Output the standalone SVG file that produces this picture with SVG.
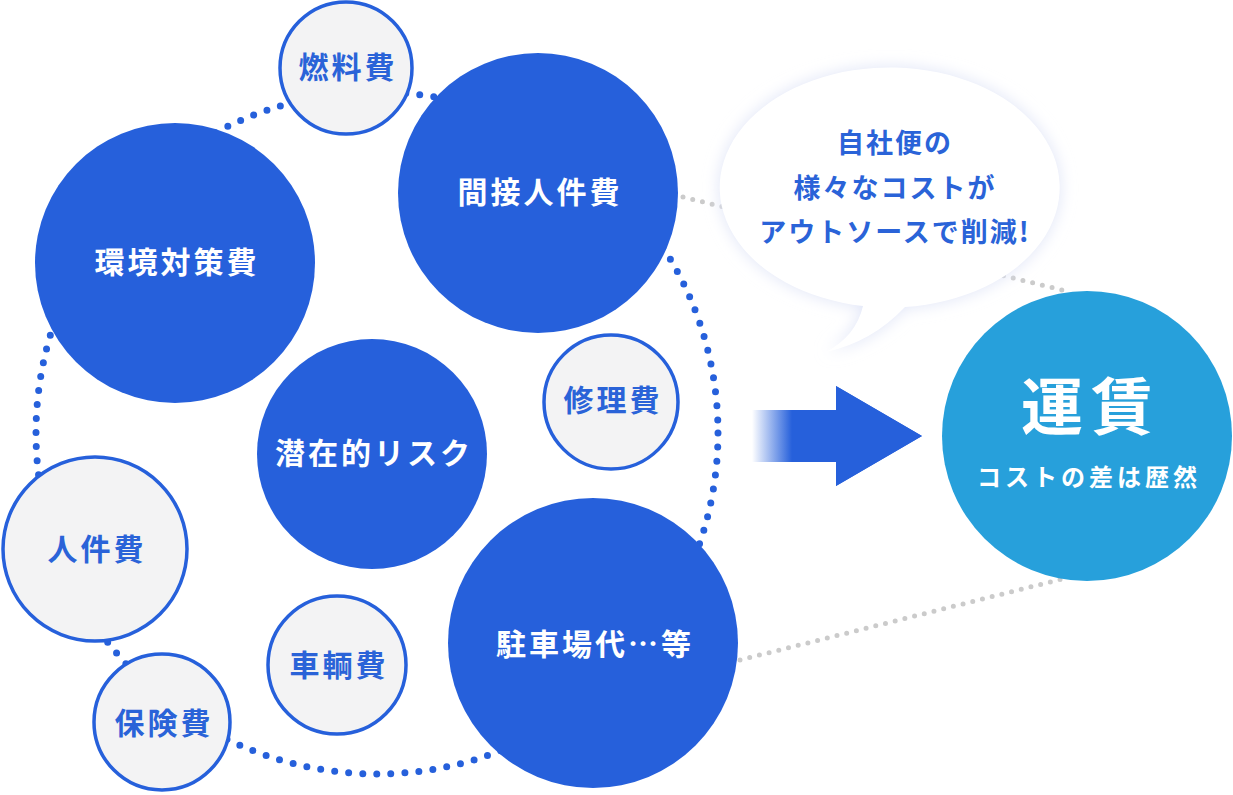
<svg xmlns="http://www.w3.org/2000/svg" width="1233" height="795" viewBox="0 0 1233 795">
<defs>
<style>
.big{fill:#2660db}
.small{fill:#f3f3f4;stroke:#2660db;stroke-width:3.5}
.t{font-family:"Noto Sans CJK JP","Noto Sans CJK SC",sans-serif;font-weight:700;text-anchor:middle}
.tw{fill:#ffffff;font-size:30px;letter-spacing:3px}
.tb{fill:#2a63d8;font-size:30px;letter-spacing:3px}
.dots{fill:none;stroke:#2660db;stroke-width:7;stroke-linecap:round}
.gdots{fill:none;stroke:#cbcbcb;stroke-width:5;stroke-linecap:round;stroke-dasharray:0 10}
</style>
<linearGradient id="fade" gradientUnits="userSpaceOnUse" x1="752" y1="0" x2="792" y2="0">
<stop offset="0" stop-color="#2660db" stop-opacity="0"/>
<stop offset="1" stop-color="#2660db" stop-opacity="1"/>
</linearGradient>
<filter id="glow" x="-30%" y="-30%" width="160%" height="160%">
<feGaussianBlur stdDeviation="8"/>
</filter>
</defs>
<rect width="1233" height="795" fill="#ffffff"/>
<g id="connectors">
<circle class="dots" cx="377" cy="433" r="341" stroke-dasharray="0 14.096"/>
<line class="gdots" x1="683" y1="197" x2="1066" y2="291"/>
<line class="gdots" x1="740" y1="660" x2="1066" y2="578"/>
<path d="M752 410 H836 V386 L922 436 L836 486 V462 H752 Z" fill="url(#fade)"/>
<path d="M792 410 H836 V386 L922 436 L836 486 V462 H792 Z" fill="#2660db"/>
</g>
<g id="bubble">
<path d="M905 307 A170 120 0 1 0 863 306 Q856 336 826 352 Q872 342 905 307 Z" fill="#dfe4f7" filter="url(#glow)"/>
<path d="M905 307 A170 120 0 1 0 863 306 Q856 336 826 352 Q872 342 905 307 Z" fill="#ffffff"/>
<text class="t" fill="#2a63d8" font-size="27" letter-spacing="2"><tspan x="895" y="153">自社便の</tspan><tspan x="895" y="198">様々なコストが</tspan><tspan x="895" y="242">アウトソースで削減!</tspan></text>
</g>
<g id="node-nenryo"><circle class="small" cx="346" cy="68" r="66"/><text class="t tb" x="348" y="78">燃料費</text></g>
<g id="node-kansetsu"><circle class="big" cx="538" cy="193" r="140"/><text class="t tw" x="540" y="203">間接人件費</text></g>
<g id="node-kankyo"><circle class="big" cx="175" cy="263" r="140"/><text class="t tw" x="177" y="273">環境対策費</text></g>
<g id="node-senzai"><circle class="big" cx="372" cy="454" r="115"/><text class="t tw" x="374" y="464">潜在的リスク</text></g>
<g id="node-shuri"><circle class="small" cx="611" cy="402" r="67"/><text class="t tb" x="613" y="411">修理費</text></g>
<g id="node-jinken"><circle class="small" cx="95" cy="549" r="92"/><text class="t tb" x="97" y="560">人件費</text></g>
<g id="node-hoken"><circle class="small" cx="162" cy="722" r="68"/><text class="t tb" x="164" y="734">保険費</text></g>
<g id="node-sharyo"><circle class="small" cx="337" cy="665" r="69"/><text class="t tb" x="339" y="676">車輌費</text></g>
<g id="node-chusha"><circle class="big" cx="593" cy="643" r="145"/><text class="t tw" x="595" y="655">駐車場代…等</text></g>
<g id="node-unchin"><circle cx="1087" cy="436" r="145" fill="#27a0db"/><text class="t" fill="#ffffff" font-size="62" letter-spacing="8" x="1091" y="430">運賃</text><text class="t" fill="#ffffff" font-size="24" font-weight="500" letter-spacing="4" x="1089" y="486">コストの差は歴然</text></g>
</svg>
